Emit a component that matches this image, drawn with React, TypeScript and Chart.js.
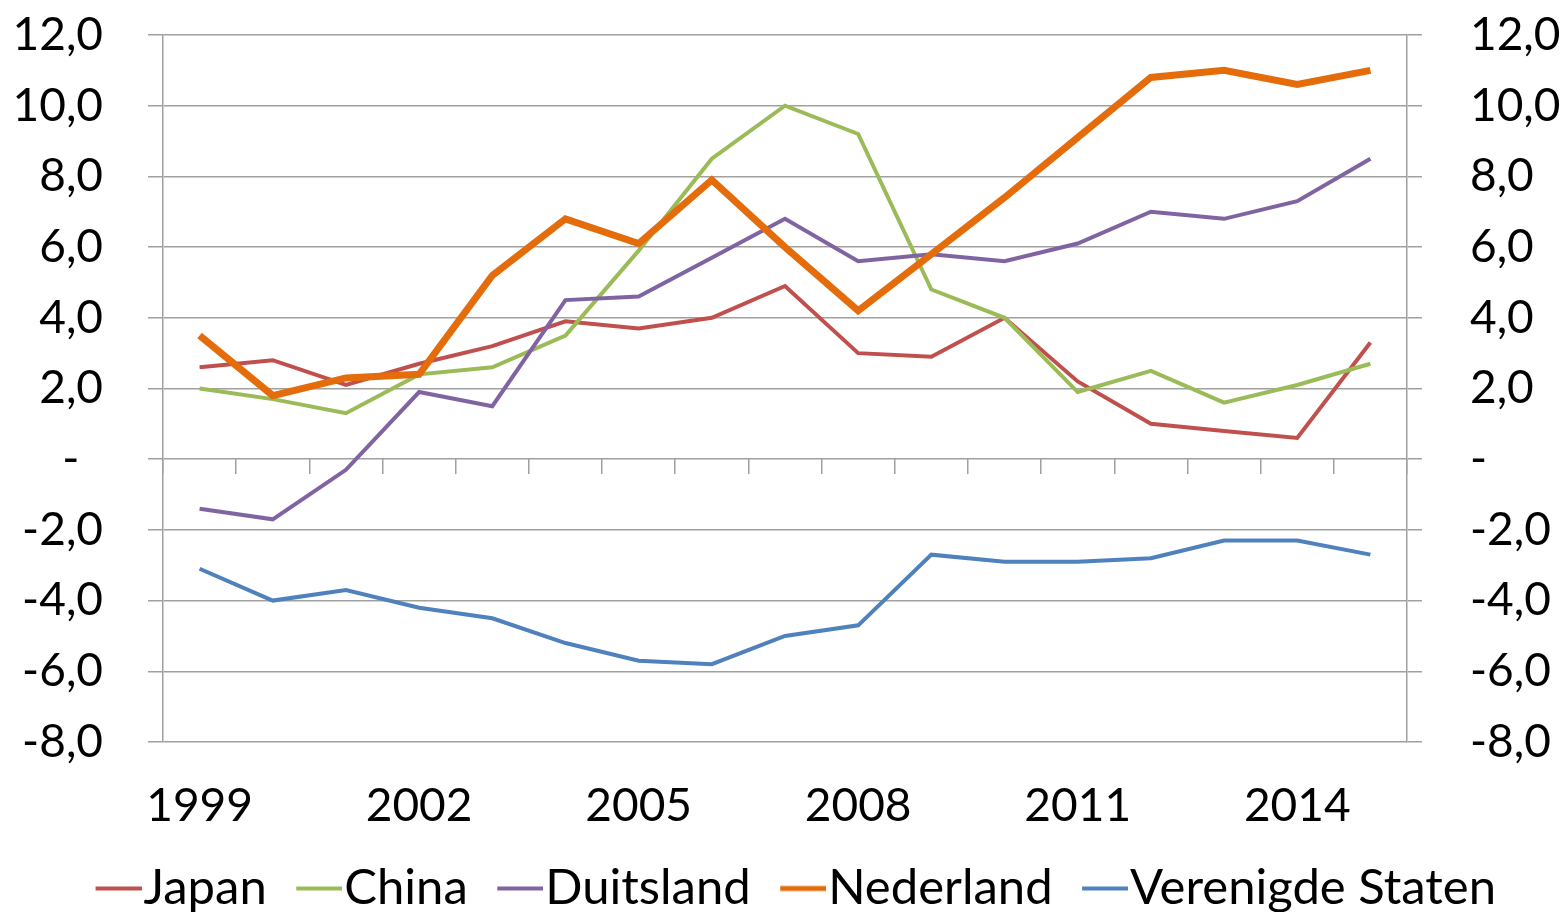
import { useEffect, useRef } from 'react';
import { Chart, registerables } from 'chart.js';

Chart.register(...registerables);

const years = ['1999', '2000', '2001', '2002', '2003', '2004', '2005', '2006', '2007', '2008', '2009', '2010', '2011', '2012', '2013', '2014', '2015'];

const japan = [2.6, 2.8, 2.1, 2.7, 3.2, 3.9, 3.7, 4.0, 4.9, 3.0, 2.9, 4.0, 2.2, 1.0, 0.8, 0.6, 3.3];
const china = [2.0, 1.7, 1.3, 2.4, 2.6, 3.5, 5.9, 8.5, 10.0, 9.2, 4.8, 4.0, 1.9, 2.5, 1.6, 2.1, 2.7];
const duitsland = [-1.4, -1.7, -0.3, 1.9, 1.5, 4.5, 4.6, 5.7, 6.8, 5.6, 5.8, 5.6, 6.1, 7.0, 6.8, 7.3, 8.5];
const nederland = [3.5, 1.8, 2.3, 2.4, 5.2, 6.8, 6.1, 7.9, 6.0, 4.2, 5.8, 7.4, 9.1, 10.8, 11.0, 10.6, 11.0];
const verenigdeStaten = [-3.1, -4.0, -3.7, -4.2, -4.5, -5.2, -5.7, -5.8, -5.0, -4.7, -2.7, -2.9, -2.9, -2.8, -2.3, -2.3, -2.7];

const seriesNames = ['Japan', 'China', 'Duitsland', 'Nederland', 'Verenigde Staten'];
const seriesValues = [japan, china, duitsland, nederland, verenigdeStaten];
const seriesColors = ['#C0504D', '#9BBB59', '#8064A2', '#E46C0A', '#4F81BD'];
const seriesWidths = [4, 4, 4, 7, 4];

const yMin = -8;
const yMax = 12;
const yStep = 2;
const xLabelEvery = 3;

const FONT_FAMILY = 'Lato';
const FONT_SIZE = 46;
const LEGEND_FONT_SIZE = 49;
const GRID = '#A0A0A0';
const TEXT = '#000000';

function fmtTick(v: number): string {
  if (Math.abs(v) < 1e-9) return '-  ';
  return v.toFixed(1).replace('.', ',');
}

// legend sample: a 46px line that ends just before the label text
const LEGEND_BOX_W = 50;
function makeLegendImage(color: string, width: number): HTMLCanvasElement {
  const c = document.createElement('canvas');
  const lineLen = 46;
  c.width = 95;
  c.height = 10;
  const ctx = c.getContext('2d')!;
  ctx.strokeStyle = color;
  ctx.lineWidth = width;
  ctx.lineCap = 'butt';
  ctx.beginPath();
  ctx.moveTo(c.width - lineLen, 5);
  ctx.lineTo(c.width, 5);
  ctx.stroke();
  return c;
}

export default function App() {
  const ref = useRef<HTMLCanvasElement>(null);

  useEffect(() => {
    const legendImgs = seriesColors.map((c, i) => makeLegendImage(c, Math.min(seriesWidths[i], 5)));
    const font = { family: FONT_FAMILY, size: FONT_SIZE };
    const noVPad = (s: any) => {
      s.paddingTop = 0;
      s.paddingBottom = 0;
    };
    const chart = new Chart(ref.current!, {
      type: 'line',
      data: {
        labels: years,
        datasets: seriesNames.map((name, i) => ({
          label: name,
          data: seriesValues[i],
          borderColor: seriesColors[i],
          backgroundColor: seriesColors[i],
          borderWidth: seriesWidths[i],
          pointRadius: 0,
          tension: 0,
          fill: false,
          order: seriesNames.length - i,
          xAxisID: 'x',
          yAxisID: 'y',
        })),
      },
      options: {
        animation: false,
        responsive: true,
        maintainAspectRatio: false,
        layout: { padding: { top: 35, left: 0, right: 0, bottom: -11 } },
        plugins: {
          tooltip: { enabled: false },
          legend: {
            position: 'bottom',
            labels: {
              font: { family: FONT_FAMILY, size: LEGEND_FONT_SIZE },
              color: TEXT,
              usePointStyle: true,
              pointStyleWidth: LEGEND_BOX_W,
              padding: 3,
              sort: (a: any, b: any) => a.datasetIndex - b.datasetIndex,
              generateLabels: (ch: any) => {
                const items = (Chart.defaults.plugins.legend.labels as any).generateLabels(ch);
                return items.map((it: any) => ({ ...it, pointStyle: legendImgs[it.datasetIndex] }));
              },
            },
          },
        },
        scales: {
          x: {
            type: 'category',
            position: 'bottom',
            offset: true,
            grid: { display: false },
            border: { display: false },
            ticks: {
              autoSkip: false,
              maxRotation: 0,
              padding: 29,
              font,
              color: TEXT,
              callback: (_v: any, i: number) => (i % xLabelEvery === 0 ? years[i] : ''),
            },
            afterFit: (s: any) => { s.height = 119; },
          },
          x0: {
            type: 'category',
            axis: 'x',
            position: { y: 0 },
            offset: true,
            grid: { display: true, offset: true, drawOnChartArea: false, drawTicks: true, tickLength: 15, color: GRID, lineWidth: 1.5 },
            border: { display: false },
            ticks: { display: false },
          },
          y: {
            position: 'left',
            min: yMin,
            max: yMax,
            ticks: { stepSize: yStep, padding: 45, font, color: TEXT, callback: (v: any) => fmtTick(Number(v)) },
            grid: { color: GRID, lineWidth: 1.5, tickLength: 15, drawTicks: true },
            border: { display: true, color: GRID, width: 1.5 },
            afterFit: (s: any) => { s.width = 163; noVPad(s); },
          },
          y2: {
            position: 'right',
            min: yMin,
            max: yMax,
            ticks: { stepSize: yStep, padding: 48, font, color: TEXT, callback: (v: any) => fmtTick(Number(v)) },
            grid: { color: GRID, lineWidth: 1.5, tickLength: 15, drawTicks: true, drawOnChartArea: false },
            border: { display: true, color: GRID, width: 1.5 },
            afterFit: (s: any) => { s.width = 158; noVPad(s); },
          },
        },
      } as any,
    });
    return () => chart.destroy();
  }, []);

  return (
    <div style={{ position: 'fixed', left: 0, top: 0, width: 1565, height: 912, background: '#ffffff' }}>
      <canvas ref={ref} />
    </div>
  );
}
